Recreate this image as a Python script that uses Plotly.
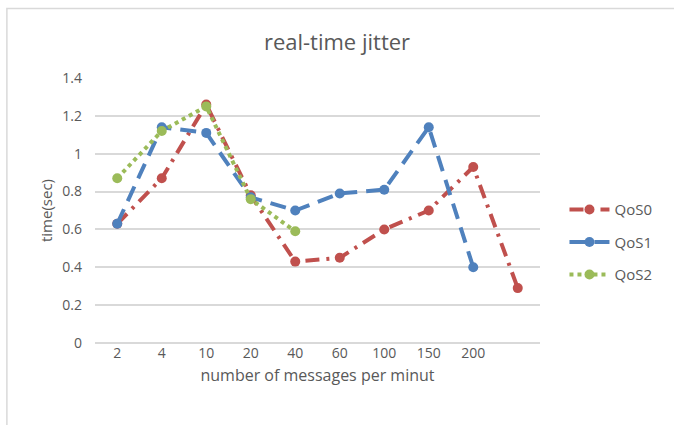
import plotly.graph_objects as go

CATEGORIES = ["2", "4", "10", "20", "40", "60", "100", "150", "200", " "]

QOS0 = [0.63, 0.87, 1.26, 0.78, 0.43, 0.45, 0.60, 0.70, 0.93, 0.29]
QOS1 = [0.63, 1.14, 1.11, 0.77, 0.70, 0.79, 0.81, 1.14, 0.40]
QOS2 = [0.87, 1.12, 1.25, 0.76, 0.59]

RED = "#C0504D"
BLUE = "#4F81BD"
GREEN = "#9BBB59"
TEXT = "#595959"
GRID = "#D9D9D9"
FONT = "Open Sans, Liberation Sans, Arial"

SERIES = [
    ("QoS0", QOS0, RED, "14px,7px,3px,7px"),
    ("QoS1", QOS1, BLUE, "16px,9px"),
    ("QoS2", QOS2, GREEN, "dot"),
]

fig = go.Figure()
for name, values, color, dash in SERIES:
    fig.add_trace(
        go.Scatter(
            x=CATEGORIES[: len(values)],
            y=values,
            mode="lines+markers",
            name=name,
            legendgroup=name,
            line={"color": color, "width": 4, "dash": dash},
            marker={"color": color, "size": 10, "symbol": "circle"},
        )
    )

# outer chart frame
fig.add_shape(
    type="rect",
    xref="paper",
    yref="paper",
    x0=-0.198,
    x1=1.4,
    y0=-0.4,
    y1=1.262,
    line={"color": "#D9D9D9", "width": 1.5},
    fillcolor="rgba(0,0,0,0)",
    layer="below",
)

fig.update_layout(
    width=674,
    height=425,
    margin={"l": 95, "r": 134, "t": 78, "b": 82},
    paper_bgcolor="white",
    plot_bgcolor="white",
    font={"family": FONT, "color": TEXT, "size": 14},
    title={
        "text": "real-time jitter",
        "x": 0.5,
        "xanchor": "center",
        "y": 0.9,
        "yanchor": "middle",
        "font": {"size": 22, "color": TEXT},
    },
    xaxis={
        "type": "category",
        "categoryorder": "array",
        "categoryarray": CATEGORIES,
        "range": [-0.5, 9.5],
        "showgrid": False,
        "showline": False,
        "ticks": "",
        "tickfont": {"size": 14, "color": TEXT},
        "title": {"text": "number of messages per minut", "font": {"size": 16, "color": TEXT}, "standoff": 8},
        "fixedrange": True,
    },
    yaxis={
        "range": [0, 1.4],
        "tickvals": [0, 0.2, 0.4, 0.6, 0.8, 1.0, 1.2, 1.4],
        "ticktext": ["0", "0.2", "0.4", "0.6", "0.8", "1", "1.2", "1.4"],
        "showgrid": True,
        "gridcolor": GRID,
        "gridwidth": 1.5,
        "zeroline": True,
        "zerolinecolor": GRID,
        "zerolinewidth": 1.5,
        "ticks": "",
        "ticklabelstandoff": 12,
        "tickfont": {"size": 14, "color": TEXT},
        "title": {"text": "time(sec)", "font": {"size": 15, "color": TEXT}, "standoff": 6},
        "fixedrange": True,
    },
    legend={
        "x": 1.055,
        "xanchor": "left",
        "y": 0.38,
        "yanchor": "middle",
        "font": {"size": 15, "color": TEXT},
        "tracegroupgap": 10,
        "itemwidth": 40,
        "bgcolor": "rgba(0,0,0,0)",
    },
)

fig.write_html(
    "out.html",
    config={"displayModeBar": False},
    post_script="document.body.style.margin='0px';",
)
